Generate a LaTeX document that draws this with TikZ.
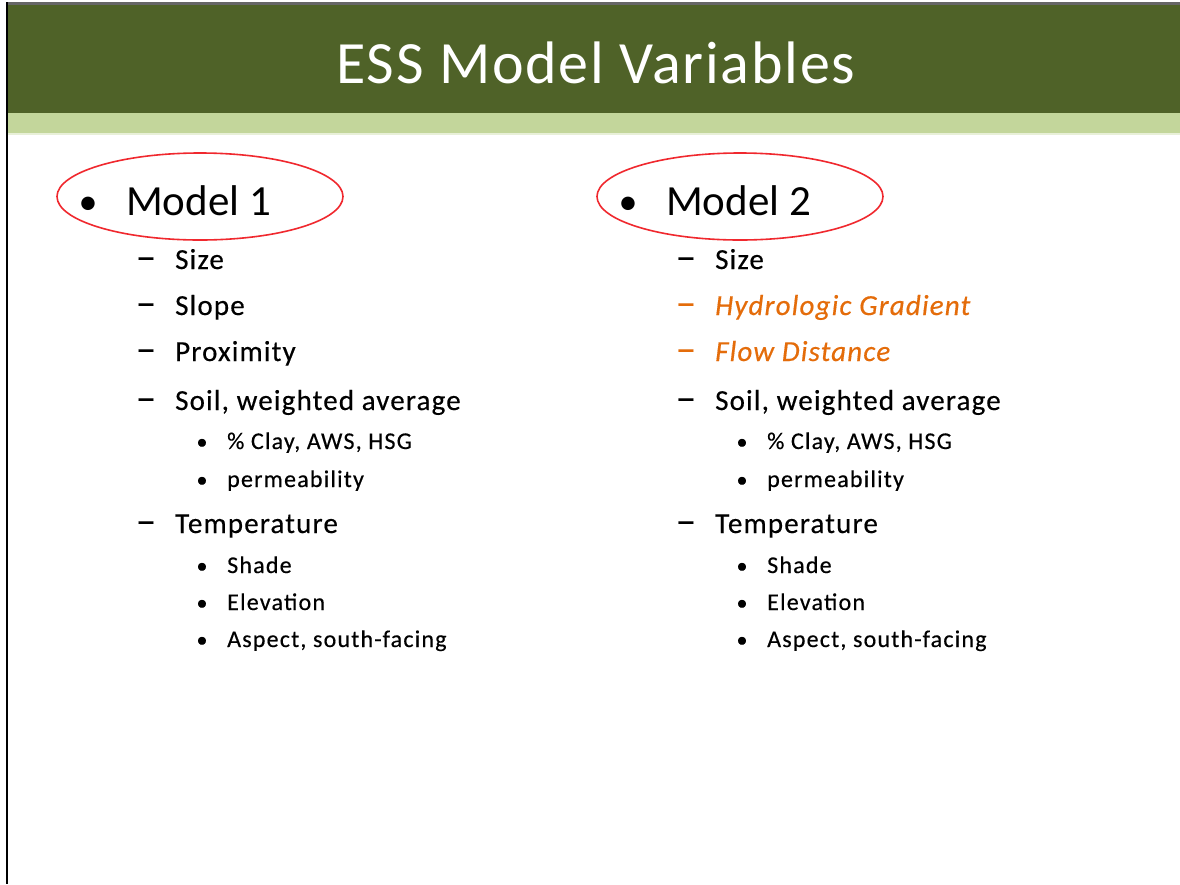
\documentclass[tikz,border=0pt]{standalone}
\usepackage{fontspec}
\setmainfont{Carlito}
\newfontfamily\titlefont[LetterSpace=3]{Carlito}
\newfontfamily\itemfont[LetterSpace=4,FakeBold=0.4]{Carlito}
\newfontfamily\subfont[LetterSpace=5,FakeBold=0.4]{Carlito}
\newfontfamily\dashfont[FakeBold=0.3]{Carlito}
\definecolor{titlegreen}{HTML}{4F6228}
\definecolor{bandgreen}{HTML}{C3D69B}
\definecolor{paleband}{HTML}{E8F0D8}
\definecolor{accent}{HTML}{E46C0A}
\definecolor{ringred}{HTML}{F0282E}
\begin{document}
\begin{tikzpicture}[x=1pt, y=-1pt, line join=round, line cap=round,
	txt/.style={inner sep=0pt, anchor=base west},
	lvlone/.style={txt, font=\fontsize{43}{50}\selectfont},
	lvltwo/.style={txt, font=\itemfont\fontsize{29}{34}\selectfont},
	lvlthree/.style={txt, font=\subfont\fontsize{24}{28}\selectfont},
	glyph/.style={inner sep=0pt, anchor=base},
	dashglyph/.style={glyph, font=\dashfont\fontsize{41}{44}\selectfont},
	dotglyph/.style={glyph, font=\subfont\fontsize{22}{26}\selectfont},
	ring/.style={draw=ringred, line width=1.6pt}]
	\useasboundingbox (0,0) rectangle (1180,884);
	\fill[white] (0,0) rectangle (1180,884);
	\fill[titlegreen] (8,5) rectangle (1180,113);
	\fill[bandgreen] (8,113) rectangle (1180,133);
	\fill[paleband] (8,133) rectangle (1180,135);
	\draw[gray!80!black, line width=3pt, line cap=butt] (6,3.5)--(1180,3.5);
	\draw[black, line width=2.2pt, line cap=butt] (7,2)--(7,884);
	\node[glyph, text=white, font=\titlefont\fontsize{60}{70}\selectfont] (title) at (596,83) {ESS Model Variables};
	\foreach \dx/\n in {0/1, 540/2}{
		\draw[ring] ({\dx+200},196.5) ellipse [x radius=143, y radius=43.5];
		\node[glyph, font=\fontsize{38}{44}\selectfont] (dot\n) at ({\dx+88},214) {•};
		\node[lvlone] (model\n) at ({\dx+126},215) {Model \n};
		\node[dashglyph] (dsize\n) at ({\dx+146},270) {–};
		\node[lvltwo] (size\n) at ({\dx+175},269) {Size};
		\node[dashglyph] (dsoil\n) at ({\dx+146},411) {–};
		\node[lvltwo] (soil\n) at ({\dx+175},410) {Soil, weighted average};
		\node[dotglyph] (bclay\n) at ({\dx+202},449) {•};
		\node[lvlthree] (clay\n) at ({\dx+227},449) {\% Clay, AWS, HSG};
		\node[dotglyph] (bperm\n) at ({\dx+202},487) {•};
		\node[lvlthree] (perm\n) at ({\dx+227},487) {permeability};
		\node[dashglyph] (dtemp\n) at ({\dx+146},534) {–};
		\node[lvltwo] (temp\n) at ({\dx+175},533) {Temperature};
		\node[dotglyph] (bshade\n) at ({\dx+202},573) {•};
		\node[lvlthree] (shade\n) at ({\dx+227},573) {Shade};
		\node[dotglyph] (belev\n) at ({\dx+202},610) {•};
		\node[lvlthree] (elev\n) at ({\dx+227},610) {Elevation};
		\node[dotglyph] (baspect\n) at ({\dx+202},647) {•};
		\node[lvlthree] (aspect\n) at ({\dx+227},647) {Aspect, south-facing};
	}
	\node[dashglyph] (dslope) at (146,316) {–};
	\node[lvltwo] (slope) at (175,315) {Slope};
	\node[dashglyph] (dprox) at (146,362) {–};
	\node[lvltwo] (prox) at (175,361) {Proximity};
	\node[dashglyph, text=accent] (dgrad) at (686,316) {–};
	\node[lvltwo, text=accent] (grad) at (715,315) {\itshape Hydrologic Gradient};
	\node[dashglyph, text=accent] (dflow) at (686,362) {–};
	\node[lvltwo, text=accent] (flow) at (715,361) {\itshape Flow Distance};
\end{tikzpicture}
\end{document}
